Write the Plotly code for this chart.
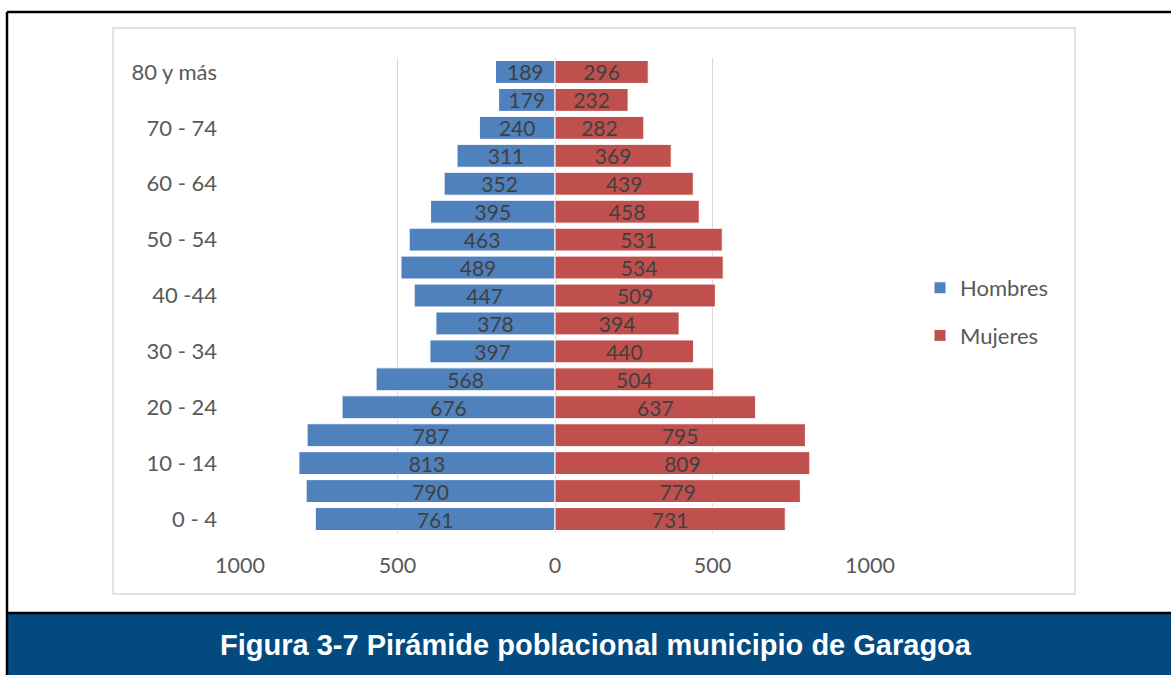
import plotly.graph_objects as go

categories = ["0 - 4", "5 - 9", "10 - 14", "15 - 19", "20 - 24", "25 - 29", "30 - 34",
              "35 - 39", "40 -44", "45 - 49", "50 - 54", "55 - 59", "60 - 64", "65 - 69",
              "70 - 74", "75 - 79", "80 y más"]
hombres = [761, 790, 813, 787, 676, 568, 397, 378, 447, 489, 463, 395, 352, 311, 240, 179, 189]
mujeres = [731, 779, 809, 795, 637, 504, 440, 394, 509, 534, 531, 458, 439, 369, 282, 232, 296]
shown_labels = categories[::2]
x_ticks = [-1000, -500, 0, 500, 1000]
x_ticktext = ["1000", "500", "0", "500", "1000"]
title = "Figura 3-7 Pirámide poblacional municipio de Garagoa"

W, H = 1171, 675
PL, PR, PT, PB = 240, 870, 58, 533


def px(x):
    return (x - PL) / (PR - PL)


def py(y):
    return (PB - y) / (PB - PT)


FONT = "Lato, 'Open Sans', sans-serif"

fig = go.Figure()
fig.add_trace(go.Bar(
    y=categories, x=[-v for v in hombres], orientation="h", name="Hombres",
    marker=dict(color="#4F81BD", line=dict(color="white", width=1)),
    text=[str(v) for v in hombres], textposition="inside", insidetextanchor="middle",
    constraintext="none",
    textfont=dict(family=FONT, size=21, color="#404040"), legendgroup="h",
    hoverinfo="skip"))
fig.add_trace(go.Bar(
    y=categories, x=mujeres, orientation="h", name="Mujeres",
    marker=dict(color="#C0504D", line=dict(color="white", width=1)),
    text=[str(v) for v in mujeres], textposition="inside", insidetextanchor="middle",
    constraintext="none",
    textfont=dict(family=FONT, size=21, color="#404040"), legendgroup="m",
    hoverinfo="skip"))

shapes = [
    # inner chart border
    dict(type="rect", xref="paper", yref="paper", x0=px(113), x1=px(1075), y0=py(594), y1=py(28),
         line=dict(color="#D9D9D9", width=1.5), layer="below"),
    # blue banner
    dict(type="rect", xref="paper", yref="paper", x0=px(7), x1=px(1172), y0=py(676), y1=py(613),
         line=dict(width=0), fillcolor="#024A80", layer="above"),
    # outer black frame
    dict(type="line", xref="paper", yref="paper", x0=px(7), x1=px(1172), y0=py(12), y1=py(12),
         line=dict(color="black", width=2.5)),
    dict(type="line", xref="paper", yref="paper", x0=px(7), x1=px(7), y0=py(12), y1=py(676),
         line=dict(color="black", width=2.5)),
    dict(type="line", xref="paper", yref="paper", x0=px(7), x1=px(1172), y0=py(613), y1=py(613),
         line=dict(color="black", width=2.5)),
]

fig.update_layout(
    width=W, height=H,
    margin=dict(l=PL, r=W - PR, t=PT, b=H - PB),
    paper_bgcolor="white", plot_bgcolor="white",
    barmode="overlay", bargap=0.18,
    showlegend=True,
    legend=dict(x=px(920), y=py(312), xanchor="left", yanchor="middle",
                font=dict(family=FONT, size=22, color="#595959"),
                traceorder="grouped", tracegroupgap=16, bgcolor="rgba(0,0,0,0)"),
    xaxis=dict(range=[-1000, 1000], tickvals=x_ticks, ticktext=x_ticktext,
               showgrid=True, gridcolor="#D9D9D9", gridwidth=1,
               zeroline=True, zerolinecolor="#D9D9D9", zerolinewidth=1,
               showline=False, ticks="", ticklabelstandoff=17,
               tickfont=dict(family=FONT, size=21.5, color="#595959")),
    yaxis=dict(type="category", categoryorder="array", categoryarray=categories,
               tickvals=shown_labels, ticktext=shown_labels,
               showgrid=False, showline=False, ticks="", ticklabelstandoff=22,
               tickfont=dict(family=FONT, size=22, color="#595959")),
    shapes=shapes,
    annotations=[dict(text="<b>" + title + "</b>", xref="paper", yref="paper",
                      x=px(596), y=py(645), xanchor="center", yanchor="middle",
                      showarrow=False,
                      font=dict(family="Liberation Sans, Arial, sans-serif", size=29, color="white"))],
)

fig.write_html("out.html", config={"displayModeBar": False},
               post_script="document.body.style.margin='0';document.body.style.overflow='hidden';")
